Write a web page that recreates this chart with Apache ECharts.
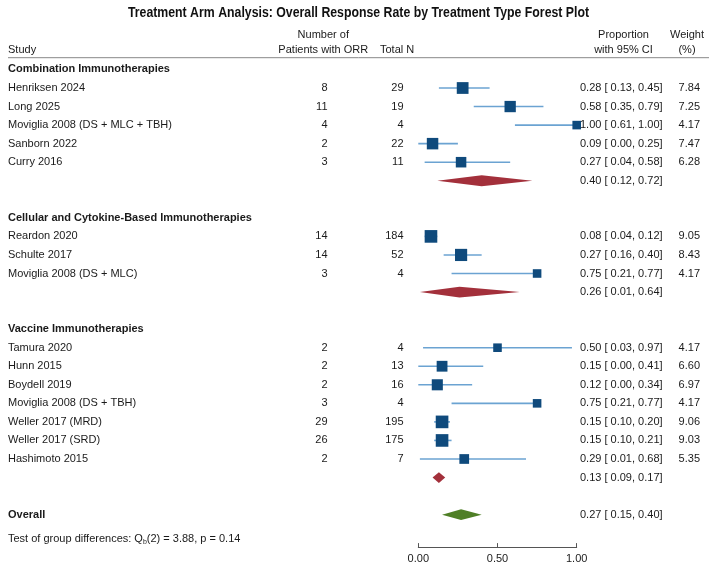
<!DOCTYPE html>
<html>
<head>
<meta charset="utf-8">
<title>Treatment Arm Analysis Forest Plot</title>
<script src="https://cdn.jsdelivr.net/npm/echarts@6/dist/echarts.min.js"></script>
<style>
  html, body { margin: 0; padding: 0; background: #fff; }
  #chart { width: 717px; height: 568px; }
</style>
</head>
<body>
<div id="chart"></div>
<script>
// ---- data ----
const groupNames = ['Combination Immunotherapies', 'Cellular and Cytokine-Based Immunotherapies', 'Vaccine Immunotherapies'];
const groupSizes = [5, 3, 7];
const groupEst = [0.40, 0.26, 0.13];
const groupLo = [0.12, 0.01, 0.09];
const groupHi = [0.72, 0.64, 0.17];

const studyNames = [
  'Henriksen 2024', 'Long 2025', 'Moviglia 2008 (DS + MLC + TBH)', 'Sanborn 2022', 'Curry 2016',
  'Reardon 2020', 'Schulte 2017', 'Moviglia 2008 (DS + MLC)',
  'Tamura 2020', 'Hunn 2015', 'Boydell 2019', 'Moviglia 2008 (DS + TBH)', 'Weller 2017 (MRD)', 'Weller 2017 (SRD)', 'Hashimoto 2015'
];
const responders = [8, 11, 4, 2, 3, 14, 14, 3, 2, 2, 2, 3, 29, 26, 2];
const totalN = [29, 19, 4, 22, 11, 184, 52, 4, 4, 13, 16, 4, 195, 175, 7];
const estimate = [0.28, 0.58, 1.00, 0.09, 0.27, 0.08, 0.27, 0.75, 0.50, 0.15, 0.12, 0.75, 0.15, 0.15, 0.29];
const ciLow = [0.13, 0.35, 0.61, 0.00, 0.04, 0.04, 0.16, 0.21, 0.03, 0.00, 0.00, 0.21, 0.10, 0.10, 0.01];
const ciHigh = [0.45, 0.79, 1.00, 0.25, 0.58, 0.12, 0.40, 0.77, 0.97, 0.41, 0.34, 0.77, 0.20, 0.21, 0.68];
const weights = [7.84, 7.25, 4.17, 7.47, 6.28, 9.05, 8.43, 4.17, 4.17, 6.60, 6.97, 4.17, 9.06, 9.03, 5.35];

const overallEst = 0.27, overallLo = 0.15, overallHi = 0.40;
const xTicks = [0, 0.5, 1];

// ---- build rows (kind: 0 study, 1 subgroup pooled, 2 overall, 3 group header) ----
const rows = [];
let r = -1, s = 0;
groupNames.forEach((g, gi) => {
  rows.push({ value: [0, 0, 0, r, 3, gi] });
  r++;
  for (let k = 0; k < groupSizes[gi]; k++, s++, r++) {
    rows.push({ value: [estimate[s], ciLow[s], ciHigh[s], r, 0, s] });
  }
  rows.push({ value: [groupEst[gi], groupLo[gi], groupHi[gi], r, 1, gi] });
  r += 2;
});
rows.push({ value: [overallEst, overallLo, overallHi, r, 2, 0] });

const FONT = '"Liberation Sans", Arial, Helvetica, sans-serif';
const txt = '#1a1a1a';
const ciTxt = (e, l, h) => e.toFixed(2) + ' [ ' + l.toFixed(2) + ', ' + h.toFixed(2) + ']';

function textEl(x, y, str, align, bold) {
  return {
    type: 'text', x: x, y: y,
    style: {
      text: str, fill: txt, align: align, verticalAlign: 'middle',
      textAlign: align, textVerticalAlign: 'middle',
      font: (bold ? 'bold ' : '') + '11px ' + FONT
    }
  };
}

function renderRow(params, api) {
  const est = api.value(0), lo = api.value(1), hi = api.value(2);
  const row = api.value(3), kind = api.value(4), idx = api.value(5);
  const y = api.coord([0, row])[1];
  const kids = [];
  if (kind === 3) {
    kids.push(textEl(8, y, groupNames[idx], 'left', true));
    return { type: 'group', children: kids };
  }
  const pLo = api.coord([lo, row]);
  const pHi = api.coord([hi, row]);
  const pE = api.coord([est, row]);
  if (kind === 0) {
    kids.push(textEl(8, y, studyNames[idx], 'left', false));
    kids.push(textEl(327.5, y, String(responders[idx]), 'right', false));
    kids.push(textEl(403.5, y, String(totalN[idx]), 'right', false));
    kids.push(textEl(700, y, weights[idx].toFixed(2), 'right', false));
    kids.push({
      type: 'line',
      shape: { x1: pLo[0], y1: y, x2: pHi[0], y2: y },
      style: { stroke: '#6ba3d2', lineWidth: 1.6 }
    });
    const side = 4.2 * Math.sqrt(weights[idx]);
    kids.push({
      type: 'rect',
      shape: { x: pE[0] - side / 2, y: y - side / 2, width: side, height: side },
      style: { fill: '#0f4a7c' }
    });
  } else {
    const h = 5.4;
    if (kind === 2) kids.push(textEl(8, y, 'Overall', 'left', true));
    kids.push({
      type: 'polygon',
      shape: { points: [[pLo[0], y], [pE[0], y - h], [pHi[0], y], [pE[0], y + h]] },
      style: { fill: kind === 2 ? '#4f7f26' : '#a3303b' }
    });
  }
  kids.push(textEl(580, y, ciTxt(est, lo, hi), 'left', false));
  return { type: 'group', children: kids };
}

const chart = echarts.init(document.getElementById('chart'), null, { renderer: 'canvas' });
chart.setOption({
  backgroundColor: '#ffffff',
  animation: false,
  grid: { left: 418.3, right: 140.3, top: 50.9, bottom: 20.9, containLabel: false },
  xAxis: {
    type: 'value',
    min: 0, max: 1, interval: 0.5,
    axisLine: { show: true, onZero: false, lineStyle: { color: '#555', width: 1 } },
    axisTick: { show: true, inside: true, length: 4, lineStyle: { color: '#555' } },
    axisLabel: {
      margin: 6, color: txt, fontFamily: FONT, fontSize: 11,
      formatter: v => xTicks.indexOf(v) >= 0 ? v.toFixed(2) : ''
    },
    splitLine: { show: false }
  },
  yAxis: { type: 'value', min: -2, max: 24.75, inverse: true, show: false },
  graphic: [
    // title, squeezed a bit to look like the condensed face of the original
    {
      type: 'text', x: 358.5, y: 13, scaleX: 0.82,
      style: {
        text: 'Treatment Arm Analysis: Overall Response Rate by Treatment Type Forest Plot',
        font: 'bold 15px ' + FONT, fill: '#111', align: 'center', verticalAlign: 'middle'
      }
    },
    { type: 'text', left: 8, top: 44, style: { text: 'Study', font: '11px ' + FONT, fill: txt } },
    { type: 'text', x: 323.3, y: 35, style: { text: 'Number of', font: '11px ' + FONT, fill: txt, align: 'center', verticalAlign: 'middle' } },
    { type: 'text', x: 323.3, y: 49.5, style: { text: 'Patients with ORR', font: '11px ' + FONT, fill: txt, align: 'center', verticalAlign: 'middle' } },
    { type: 'text', x: 380, y: 49.5, style: { text: 'Total N', font: '11px ' + FONT, fill: txt, align: 'left', verticalAlign: 'middle' } },
    { type: 'text', x: 623.5, y: 35, style: { text: 'Proportion', font: '11px ' + FONT, fill: txt, align: 'center', verticalAlign: 'middle' } },
    { type: 'text', x: 623.5, y: 49.5, style: { text: 'with 95% CI', font: '11px ' + FONT, fill: txt, align: 'center', verticalAlign: 'middle' } },
    { type: 'text', x: 687, y: 35, style: { text: 'Weight', font: '11px ' + FONT, fill: txt, align: 'center', verticalAlign: 'middle' } },
    { type: 'text', x: 687, y: 49.5, style: { text: '(%)', font: '11px ' + FONT, fill: txt, align: 'center', verticalAlign: 'middle' } },
    { type: 'line', shape: { x1: 8, y1: 57.7, x2: 709, y2: 57.7 }, style: { stroke: '#888', lineWidth: 1 } },
    {
      type: 'text', x: 8, y: 539,
      style: {
        text: '{a|Test of group differences: Q}{b|b}{a|(2) = 3.88, p = 0.14}',
        verticalAlign: 'middle',
        rich: {
          a: { font: '11px ' + FONT, fill: txt, lineHeight: 14 },
          b: { font: '7px ' + FONT, fill: txt, lineHeight: 14, padding: [7, 0, 0, 0] }
        }
      }
    }
  ],
  series: [{
    type: 'custom',
    coordinateSystem: 'cartesian2d',
    renderItem: renderRow,
    clip: false,
    silent: true,
    encode: { x: 0, y: 3 },
    data: rows
  }]
});
</script>
</body>
</html>
